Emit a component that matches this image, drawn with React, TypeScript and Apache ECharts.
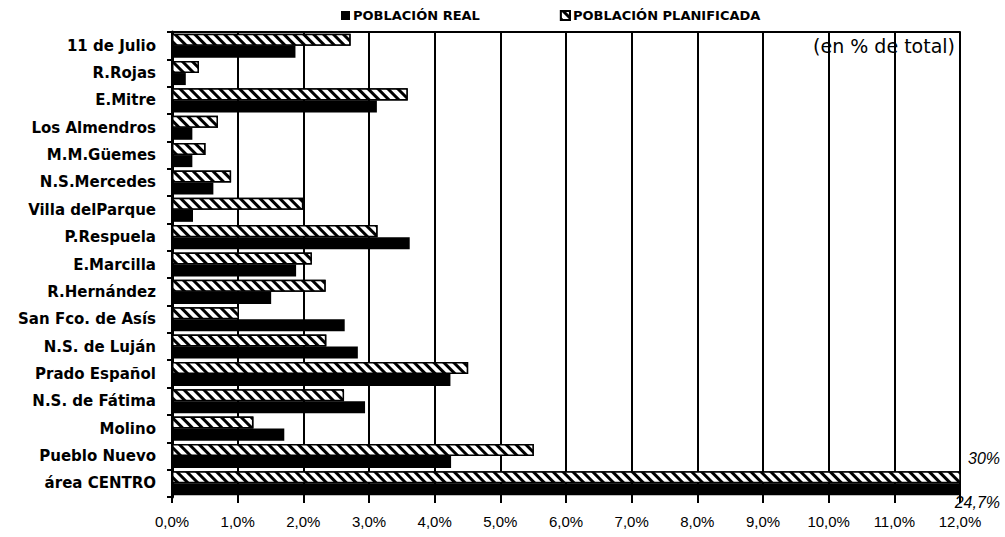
import React, { useEffect, useRef } from "react";
import * as echarts from "echarts";

const categories = [
  "11 de Julio",
  "R.Rojas",
  "E.Mitre",
  "Los Almendros",
  "M.M.Güemes",
  "N.S.Mercedes",
  "Villa delParque",
  "P.Respuela",
  "E.Marcilla",
  "R.Hernández",
  "San Fco. de Asís",
  "N.S. de Luján",
  "Prado Español",
  "N.S. de Fátima",
  "Molino",
  "Pueblo Nuevo",
  "área CENTRO",
];

const poblacionPlanificada = [
  2.72, 0.41, 3.59, 0.7, 0.51, 0.9, 2.0, 3.13, 2.13, 2.34, 1.02, 2.35, 4.51, 2.62, 1.24, 5.51, 30,
];

const poblacionReal = [
  1.88, 0.21, 3.12, 0.31, 0.31, 0.63, 0.32, 3.62, 1.89, 1.51, 2.63, 2.83, 4.24, 2.94, 1.71, 4.25, 24.7,
];

const seriesNames = ["POBLACIÓN REAL", "POBLACIÓN PLANIFICADA"];
const overflowLabels = ["30%", "24,7%"];
const unitNote = "(en % de total)";

const xMin = 0;
const xMax = 12;
const xInterval = 1;

const fmt = (v: number) => v.toFixed(1).replace(".", ",") + "%";

export default function App() {
  const ref = useRef<HTMLDivElement>(null);

  useEffect(() => {
    document.body.style.margin = "0";
    const chart = echarts.init(ref.current!, null, { renderer: "svg" });
    chart.setOption({
      animation: false,
      backgroundColor: "#fff",
      legend: {
        data: seriesNames,
        left: 341,
        top: 9,
        itemWidth: 9,
        itemHeight: 9,
        itemGap: 80,
        padding: 0,
        icon: "rect",
        textStyle: {
          fontFamily: "DejaVu Sans",
          fontWeight: "bold",
          fontSize: 13,
          color: "#000",
          padding: [0, 0, 0, -2],
        },
      },
      grid: { left: 172, right: 45, top: 32, bottom: 40 },
      xAxis: [
        {
          type: "value",
          min: xMin,
          max: xMax,
          interval: xInterval,
          axisLine: { show: false },
          axisTick: { show: true, length: 6, lineStyle: { color: "#000", width: 2 } },
          axisLabel: {
            formatter: fmt,
            margin: 17,
            fontFamily: "Liberation Sans",
            fontSize: 15,
            color: "#000",
          },
          splitLine: { show: true, lineStyle: { color: "#000", width: 2 } },
        },
        {
          type: "value",
          position: "top",
          min: xMin,
          max: xMax,
          interval: xInterval,
          axisLine: { show: true, onZero: false, lineStyle: { color: "#000", width: 2 } },
          axisTick: { show: false },
          axisLabel: { show: false },
          splitLine: { show: false },
        },
      ],
      yAxis: {
        type: "category",
        inverse: true,
        data: categories,
        axisLine: { show: true, lineStyle: { color: "#000", width: 3 } },
        axisTick: { show: true, length: 5, lineStyle: { color: "#000", width: 2 } },
        axisLabel: {
          margin: 16,
          fontFamily: "DejaVu Sans",
          fontWeight: "bold",
          fontSize: 15,
          color: "#000",
          padding: [0, 0, 4, 0],
        },
      },
      series: [
        {
          name: seriesNames[1],
          type: "bar",
          data: poblacionPlanificada,
          barGap: "0%",
          barCategoryGap: "12%",
          clip: true,
          itemStyle: {
            color: "#000",
            borderColor: "#000",
            borderWidth: 1.5,
            decal: {
              symbol: "rect",
              symbolSize: 1,
              color: "#fff",
              backgroundColor: "rgba(0,0,0,0)",
              dashArrayX: [1, 0],
              dashArrayY: [3.5, 3],
              rotation: Math.PI / 4,
            },
          },
        },
        {
          name: seriesNames[0],
          type: "bar",
          data: poblacionReal,
          barGap: "0%",
          barCategoryGap: "12%",
          clip: true,
          itemStyle: { color: "#000" },
        },
      ],
      graphic: [
        {
          type: "text",
          right: 50,
          top: 36,
          style: {
            text: unitNote,
            font: '19px "DejaVu Sans"',
            fill: "#000",
          },
        },
        {
          type: "text",
          right: 5,
          top: 450,
          style: {
            text: overflowLabels[0],
            font: 'italic 16px "Liberation Sans"',
            fill: "#000",
          },
        },
        {
          type: "text",
          right: 5,
          top: 494,
          style: {
            text: overflowLabels[1],
            font: 'italic 16px "Liberation Sans"',
            fill: "#000",
          },
        },
      ],
    });
    return () => chart.dispose();
  }, []);

  return <div ref={ref} style={{ width: 1005, height: 537 }} />;
}
